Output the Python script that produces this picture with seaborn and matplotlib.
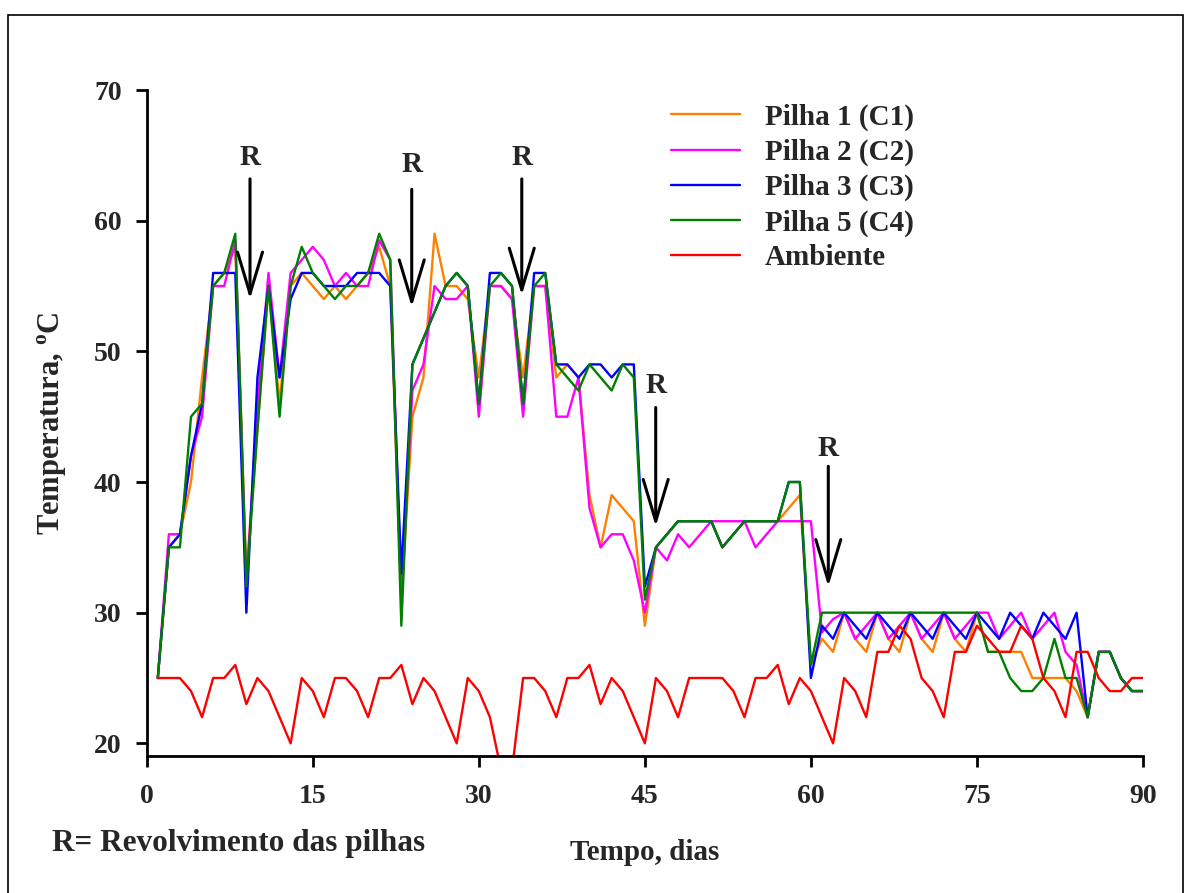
import numpy as np
import pandas as pd
import matplotlib
matplotlib.use("Agg")
import matplotlib.pyplot as plt
from matplotlib.lines import Line2D
from matplotlib.patches import Rectangle
import seaborn as sns

# Daily temperature readings (days 1..90)
days = list(range(1, 91))

pilha1 = [25, 35, 36, 40, 48, 55, 56, 58, 33, 44,
          55, 46, 55, 56, 55, 54, 55, 54, 55, 56,
          58, 55, 31, 45, 48, 59, 55, 55, 54, 48,
          55, 55, 54, 48, 55, 55, 48, 49, 48, 39,
          35, 39, 38, 37, 29, 35, 36, 37, 37, 37,
          37, 35, 36, 37, 37, 37, 37, 38, 39, 26,
          28, 27, 30, 28, 27, 30, 28, 27, 30, 28,
          27, 30, 28, 27, 30, 27, 27, 27, 27, 25,
          25, 25, 25, 24, 22, 27, 27, 25, 24, 24]

pilha2 = [25, 36, 36, 42, 45, 55, 55, 58.5, 32, 46,
          56, 48, 56, 57, 58, 57, 55, 56, 55, 55,
          58.5, 57, 31, 47, 49, 55, 54, 54, 55, 45,
          55, 55, 54, 45, 55, 55, 45, 45, 48, 38,
          35, 36, 36, 34, 30, 35, 34, 36, 35, 36,
          37, 37, 37, 37, 35, 36, 37, 37, 37, 37,
          28.5, 29.5, 30, 28, 29, 30, 28, 29, 30, 28,
          29, 30, 28, 29, 30, 30, 28, 29, 30, 28,
          29, 30, 27, 26, 22, 27, 27, 25, 24, 24]

pilha3 = [25, 35, 36, 42, 46, 56, 56, 56, 30, 48,
          55, 48, 54, 56, 56, 55, 55, 55, 56, 56,
          56, 55, 33, 49, 51, 53, 55, 56, 55, 46,
          56, 56, 55, 46, 56, 56, 49, 49, 48, 49,
          49, 48, 49, 49, 32, 35, 36, 37, 37, 37,
          37, 35, 36, 37, 37, 37, 37, 40, 40, 25,
          29, 28, 30, 29, 28, 30, 29, 28, 30, 29,
          28, 30, 29, 28, 30, 29, 28, 30, 29, 28,
          30, 29, 28, 30, 22, 27, 27, 25, 24, 24]

pilha5 = [25, 35, 35, 45, 46, 55, 56, 59, 32, 44,
          55, 45, 55, 58, 56, 55, 54, 55, 55, 56,
          59, 57, 29, 49, 51, 53, 55, 56, 55, 46,
          55, 56, 55, 46, 55, 56, 49, 48, 47, 49,
          48, 47, 49, 48, 31, 35, 36, 37, 37, 37,
          37, 35, 36, 37, 37, 37, 37, 40, 40, 26,
          30, 30, 30, 30, 30, 30, 30, 30, 30, 30,
          30, 30, 30, 30, 30, 27, 27, 25, 24, 24,
          25, 28, 25, 25, 22, 27, 27, 25, 24, 24]

ambiente = [25, 25, 25, 24, 22, 25, 25, 26, 23, 25,
            24, 22, 20, 25, 24, 22, 25, 25, 24, 22,
            25, 25, 26, 23, 25, 24, 22, 20, 25, 24,
            22, 18, 18, 25, 25, 24, 22, 25, 25, 26,
            23, 25, 24, 22, 20, 25, 24, 22, 25, 25,
            25, 25, 24, 22, 25, 25, 26, 23, 25, 24,
            22, 20, 25, 24, 22, 27, 27, 29, 28, 25,
            24, 22, 27, 27, 29, 28, 27, 27, 29, 28,
            25, 24, 22, 27, 27, 25, 24, 24, 25, 25]

series_names = ["Pilha 1 (C1)", "Pilha 2 (C2)", "Pilha 3 (C3)", "Pilha 5 (C4)", "Ambiente"]
series_values = [pilha1, pilha2, pilha3, pilha5, ambiente]
series_colors = ["#FF8000", "#FF00FF", "#0000FF", "#008000", "#FF0000"]

x_ticks = [0, 15, 30, 45, 60, 75, 90]
y_ticks = [20, 30, 40, 50, 60, 70]

# Turning events: (day, arrow tip, arrow tail, label height)
turn_days = [9.33, 23.94, 33.88, 45.98, 61.57]
turn_tips = [54.0, 53.4, 54.3, 36.6, 32.0]
turn_tails = [63.2, 62.4, 63.2, 45.7, 41.2]
turn_labels_y = [64.8, 64.3, 64.8, 47.4, 42.6]

frames = []
for name, vals in zip(series_names, series_values):
    frames.append(pd.DataFrame({"Dia": days, "Temperatura": vals, "Serie": name}))
df = pd.concat(frames, ignore_index=True)

sns.set_theme(style="white")
plt.rcParams["font.family"] = ["Liberation Serif", "DejaVu Serif"]
plt.rcParams["font.weight"] = "bold"
plt.rcParams["mathtext.fontset"] = "custom"
plt.rcParams["mathtext.rm"] = "Liberation Serif:bold"
plt.rcParams["mathtext.bf"] = "Liberation Serif:bold"

fig = plt.figure(figsize=(11.91, 8.93), dpi=100)
fig.patch.set_facecolor("white")
ax = fig.add_axes([0.1232, 0.1537, 0.8365, 0.7455])

sns.lineplot(data=df, x="Dia", y="Temperatura", hue="Serie", hue_order=series_names,
             palette=dict(zip(series_names, series_colors)), linewidth=1.7,
             ax=ax, legend=False, estimator=None, sort=False)

ax.set_xlim(0, 90)
ax.set_ylim(19.05, 70)
ax.set_xticks(x_ticks)
ax.set_yticks(y_ticks)
ax.tick_params(axis="both", which="major", direction="out", length=8, width=2,
               color="black", labelsize=20, left=True, bottom=True)
ax.tick_params(axis="y", pad=10)
ax.tick_params(axis="x", pad=12)
for lab in ax.get_xticklabels() + ax.get_yticklabels():
    lab.set_fontweight("bold")

for side in ["top", "right"]:
    ax.spines[side].set_visible(False)
for side in ["left", "bottom"]:
    ax.spines[side].set_visible(True)
    ax.spines[side].set_linewidth(2)
    ax.spines[side].set_color("black")
ax.grid(False)
ax.set_facecolor("white")

ax.set_xlabel("Tempo, dias", fontsize=21, fontweight="bold", labelpad=22)
ax.set_ylabel(r"Temperatura, $^{\mathbf{o}}$C", fontsize=22, fontweight="bold", labelpad=18)

# Turning arrows
for d, tip, tail, ly in zip(turn_days, turn_tips, turn_tails, turn_labels_y):
    ax.annotate("", xy=(d, tip), xytext=(d, tail),
                arrowprops=dict(arrowstyle="->, head_length=1.5, head_width=0.45",
                                lw=2.2, color="black", mutation_scale=20,
                                shrinkA=0, shrinkB=0))
    ax.text(d, ly, "R", ha="center", va="center", fontsize=21, fontweight="bold")

handles = [Line2D([0], [0], color=c, lw=1.7) for c in series_colors]
leg = ax.legend(handles, series_names, loc="upper left",
                bbox_to_anchor=(0.5631, 0.884), bbox_transform=fig.transFigure,
                frameon=False, fontsize=21, handlelength=2.37, handletextpad=0.86,
                labelspacing=0.27, borderpad=0, borderaxespad=0)
for t in leg.get_texts():
    t.set_fontweight("bold")

fig.text(52 / 1191, 1 - 843 / 893, "R= Revolvimento das pilhas", ha="left", va="center",
         fontsize=22.5, fontweight="bold")

fig.patches.append(Rectangle((8 / 1191, -0.02), (1183 - 8) / 1191, 1.02 - 15 / 893,
                             transform=fig.transFigure, fill=False, lw=1.2,
                             edgecolor="black", figure=fig))

fig.savefig("out.png", dpi=100, facecolor="white")
